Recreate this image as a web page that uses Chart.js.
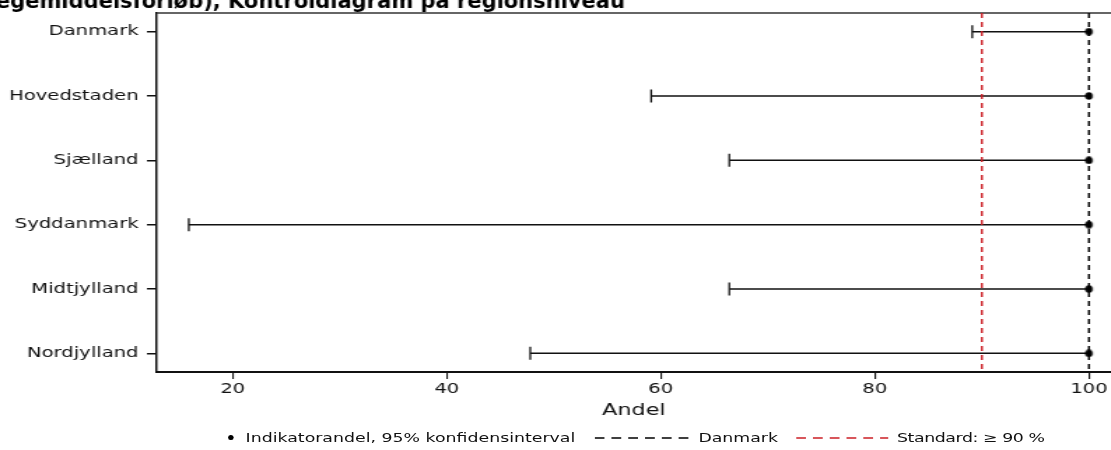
<!DOCTYPE html>
<html>
<head>
<meta charset="utf-8">
<script src="https://cdn.jsdelivr.net/npm/chart.js@4.4.1/dist/chart.umd.min.js"></script>
<style>
    html, body { margin: 0; padding: 0; background: #fff; overflow: hidden; }
    /* the original picture is stretched sideways, so the whole chart is drawn narrow and widened */
    #wrap { position: relative; width: 794px; height: 450px; transform: scaleX(1.3992); transform-origin: 0 0; }
    #legend {
        position: absolute; left: 163px; top: 430px;
        display: flex; align-items: center; white-space: nowrap;
        font: 12.4px "DejaVu Sans", sans-serif; color: #111;
    }
    #legend .dot { width: 3.5px; height: 5px; border-radius: 50%; background: #000; margin-right: 9px; }
    #legend svg { display: block; }
</style>
</head>
<body>
<div id="wrap">
    <canvas id="controlChart"></canvas>
    <div id="legend">
        <span class="dot"></span>
        <span>Indikatorandel, 95% konfidensinterval</span>
        <svg width="69" height="4" style="margin:0 5px 0 14px"><line x1="0" y1="2" x2="69" y2="2" stroke="#000" stroke-width="1.5" stroke-dasharray="7,5"/></svg>
        <span>Danmark</span>
        <svg width="66" height="4" style="margin:0 6px 0 13px"><line x1="0" y1="2" x2="66" y2="2" stroke="#cc1f26" stroke-width="1.5" stroke-dasharray="7,5"/></svg>
        <span style="letter-spacing:-0.3px">Standard: ≥ 90 %</span>
    </div>
</div>
<script>
// data
const regions = ['Danmark', 'Hovedstaden', 'Sjælland', 'Syddanmark', 'Midtjylland', 'Nordjylland'];
const andel = [100, 100, 100, 100, 100, 100];
const lowerCI = [89.1, 59.1, 66.4, 15.9, 66.4, 47.8];
const upperCI = [100, 100, 100, 100, 100, 100];
const xTicks = [20, 40, 60, 80, 100];
const danmarkLine = 100;
const standardLine = 90;

const titleText = 'i lægemiddelsforløb), Kontroldiagram på regionsniveau';
const stretch = 1.3992;

// dot drawn narrow so it ends up round after the sideways stretch
const dot = document.createElement('canvas');
dot.width = 8; dot.height = 8;
const dctx = dot.getContext('2d');
dctx.fillStyle = '#000';
dctx.beginPath();
dctx.ellipse(4, 4, 3.8 / stretch, 3.8, 0, 0, Math.PI * 2);
dctx.fill();

// error bars, reference lines, top frame and the (clipped) title
const errorBars = {
    id: 'errorBars',
    beforeDatasetsDraw(chart) {
        const { ctx, chartArea, scales: { x, y } } = chart;
        ctx.save();

        ctx.strokeStyle = '#333';
        ctx.lineWidth = 1.5;
        ctx.beginPath();
        ctx.moveTo(chartArea.left, chartArea.top);
        ctx.lineTo(chartArea.right + 10, chartArea.top);
        ctx.stroke();

        ctx.strokeStyle = '#111';
        regions.forEach((r, i) => {
            const py = y.getPixelForValue(i);
            const x1 = x.getPixelForValue(lowerCI[i]);
            const x2 = x.getPixelForValue(upperCI[i]);
            ctx.lineWidth = 1.5;
            ctx.beginPath();
            ctx.moveTo(x1, py);
            ctx.lineTo(x2, py);
            ctx.stroke();
            ctx.lineWidth = 1.3;
            ctx.beginPath();
            ctx.moveTo(x1, py - 6.5);
            ctx.lineTo(x1, py + 6.5);
            ctx.stroke();
        });

        ctx.lineWidth = 1.4;
        ctx.setLineDash([5, 4]);
        [[standardLine, '#cc1f26'], [danmarkLine, '#000']].forEach(([v, c]) => {
            const px = x.getPixelForValue(v);
            ctx.strokeStyle = c;
            ctx.beginPath();
            ctx.moveTo(px, chartArea.top);
            ctx.lineTo(px, chartArea.bottom);
            ctx.stroke();
        });
        ctx.restore();
    },
    afterDraw(chart) {
        // title is cut off at the top in the original
        const { ctx } = chart;
        ctx.save();
        ctx.scale(1 / stretch, 1);
        ctx.font = 'bold 21px "DejaVu Sans"';
        ctx.fillStyle = '#000';
        const pre = titleText.slice(0, titleText.indexOf('Kontroldiagram'));
        const startX = 228 - ctx.measureText(pre).width;
        ctx.fillText(titleText, startX, 8);
        ctx.restore();
    }
};

const tickFont = { family: 'DejaVu Sans', size: 14 };

new Chart(document.getElementById('controlChart'), {
    type: 'scatter',
    data: {
        datasets: [{
            label: 'Indikatorandel',
            data: andel.map((v, i) => ({ x: v, y: i })),
            pointStyle: dot,
            pointRadius: 4,
            pointHoverRadius: 4
        }]
    },
    options: {
        responsive: true,
        maintainAspectRatio: false,
        animation: false,
        layout: { autoPadding: false, padding: { top: 13, right: 0, left: 0, bottom: 0 } },
        plugins: {
            legend: { display: false },
            tooltip: { enabled: false }
        },
        scales: {
            x: {
                type: 'linear',
                min: 12.9,
                max: 102.06,
                afterBuildTicks: (scale) => { scale.ticks = xTicks.map(v => ({ value: v })); },
                afterFit: (scale) => { scale.height = 78; scale.paddingLeft = 0; scale.paddingRight = 0; },
                ticks: { color: '#111', font: tickFont, padding: 2, maxRotation: 0 },
                grid: { drawOnChartArea: false, drawTicks: true, tickLength: 7, color: '#111', lineWidth: 1.1 },
                border: { display: true, color: '#111', width: 2 },
                title: {
                    display: true,
                    text: 'Andel',
                    color: '#111',
                    font: { family: 'DejaVu Sans', size: 16 },
                    padding: { top: 0, bottom: 30 }
                }
            },
            y: {
                type: 'linear',
                reverse: true,
                min: -0.29,
                max: 5.29,
                afterBuildTicks: (scale) => { scale.ticks = regions.map((r, i) => ({ value: i })); },
                afterFit: (scale) => { scale.width = 112; scale.paddingTop = 0; scale.paddingBottom = 0; },
                ticks: {
                    color: '#111',
                    font: tickFont,
                    padding: 6,
                    callback: (v) => regions[v]
                },
                grid: { drawOnChartArea: false, drawTicks: true, tickLength: 7, color: '#111', lineWidth: 1.5 },
                border: { display: true, color: '#111', width: 1.5 }
            }
        }
    },
    plugins: [errorBars]
});
</script>
</body>
</html>
